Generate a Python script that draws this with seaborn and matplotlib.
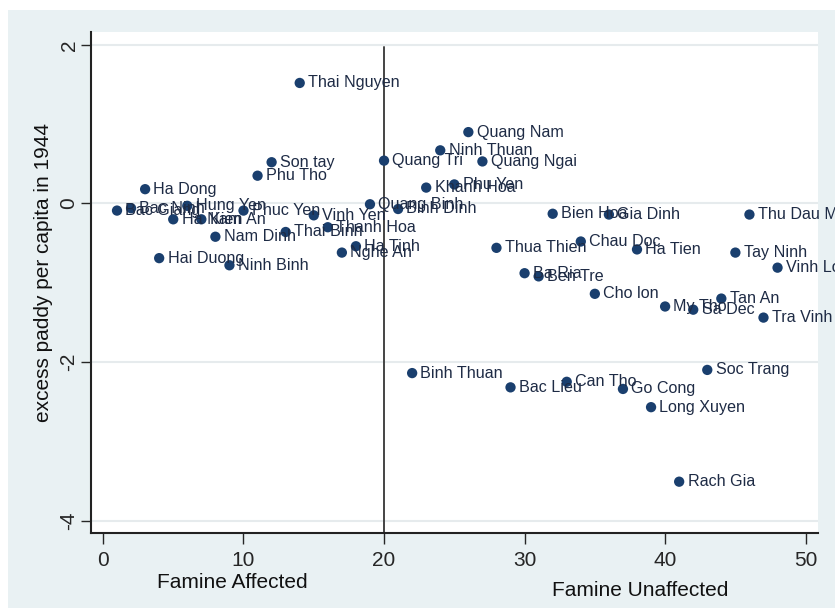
import pandas as pd
import matplotlib.pyplot as plt
import seaborn as sns
from matplotlib.patches import Rectangle
from matplotlib.transforms import blended_transform_factory

# provinces ordered by rank (x), with excess paddy per capita in 1944 (y)
provinces = ['Bac Giang', 'Bac Ninh', 'Ha Dong', 'Hai Duong', 'Ha Nam', 'Hung Yen',
             'Kien An', 'Nam Dinh', 'Ninh Binh', 'Phuc Yen', 'Phu Tho', 'Son tay',
             'Thai Binh', 'Thai Nguyen', 'Vinh Yen', 'Thanh Hoa', 'Nghe An', 'Ha Tinh',
             'Quang Binh', 'Quang Tri', 'Binh Dinh', 'Binh Thuan', 'Khanh Hoa',
             'Ninh Thuan', 'Phu Yen', 'Quang Nam', 'Quang Ngai', 'Thua Thien',
             'Bac Lieu', 'Ba Ria', 'Ben Tre', 'Bien Hoa', 'Can Tho', 'Chau Doc',
             'Cho lon', 'Gia Dinh', 'Go Cong', 'Ha Tien', 'Long Xuyen', 'My Tho',
             'Rach Gia', 'Sa Dec', 'Soc Trang', 'Tan An', 'Tay Ninh', 'Thu Dau Mot',
             'Tra Vinh', 'Vinh Long']
rank = list(range(1, 49))
excess_paddy = [-0.09, -0.06, 0.18, -0.69, -0.20, -0.03,
                -0.20, -0.42, -0.78, -0.09, 0.35, 0.52,
                -0.36, 1.52, -0.15, -0.30, -0.62, -0.54,
                -0.01, 0.54, -0.07, -2.14, 0.20,
                0.67, 0.24, 0.90, 0.53, -0.56,
                -2.32, -0.88, -0.92, -0.13, -2.25, -0.48,
                -1.14, -0.14, -2.34, -0.58, -2.57, -1.30,
                -3.51, -1.34, -2.10, -1.20, -0.62, -0.14,
                -1.44, -0.81]
cutoff = 20
x_ticks = [0, 10, 20, 30, 40, 50]
y_ticks = [2, 0, -2, -4]

df = pd.DataFrame({'province': provinces, 'rank': rank, 'paddy': excess_paddy})

sns.set_style('white')
plt.rcParams['font.family'] = ['Liberation Sans', 'DejaVu Sans']
plt.rcParams['axes.unicode_minus'] = False

navy = '#1a3f6e'
fig = plt.figure(figsize=(8.35, 6.08), dpi=100)
fig.patch.set_facecolor('white')
fig.add_artist(Rectangle((8 / 835, 0), 1, 1 - 10 / 608, transform=fig.transFigure,
                         facecolor='#e9f1f3', edgecolor='none', zorder=-10))
ax = fig.add_axes([0.109, 0.123, 0.871, 0.824])
ax.set_facecolor('white')

sns.scatterplot(data=df, x='rank', y='paddy', color=navy, s=55, edgecolor='none',
                ax=ax, zorder=3)
for _, r in df.iterrows():
    ax.annotate(r['province'], (r['rank'], r['paddy']), xytext=(6, 0),
                textcoords='offset points', va='center', ha='left',
                fontsize=11.6, color='#1e2b45', zorder=4)

ymin, ymax = -4.16, 2.16
ax.set_xlim(-0.85, 50.9)
ax.set_ylim(ymin, ymax)
ax.axvline(cutoff, ymin=0, ymax=(1.97 - ymin) / (ymax - ymin), color='#444444', lw=1.4, zorder=2)

ax.set_yticks(y_ticks)
ax.set_xticks(x_ticks)
ax.yaxis.grid(True, color='#e6ebed', lw=1.5)
ax.xaxis.grid(False)
ax.tick_params(axis='y', left=True, length=7, width=1, labelsize=15, pad=2, labelrotation=90)
ax.tick_params(axis='x', bottom=True, length=8, width=1, labelsize=15, pad=5)
for lbl in ax.get_yticklabels():
    lbl.set_va('center')
for side in ['top', 'right']:
    ax.spines[side].set_visible(False)
for side in ['left', 'bottom']:
    ax.spines[side].set_color('#222222')
    ax.spines[side].set_linewidth(1.5)

ax.set_xlabel('')
ax.set_ylabel('excess paddy per capita in 1944', fontsize=15, color='#111111')
ax.yaxis.set_label_coords(-0.052, 0.52)

trans = blended_transform_factory(ax.transData, fig.transFigure)
ax.text(9.2, 1 - 582 / 608, 'Famine Affected', transform=trans, ha='center', va='center',
        fontsize=15, color='#111111')
ax.text(38.2, 1 - 590 / 608, 'Famine Unaffected', transform=trans, ha='center', va='center',
        fontsize=15, color='#111111')

fig.savefig('out.png', dpi=100)
